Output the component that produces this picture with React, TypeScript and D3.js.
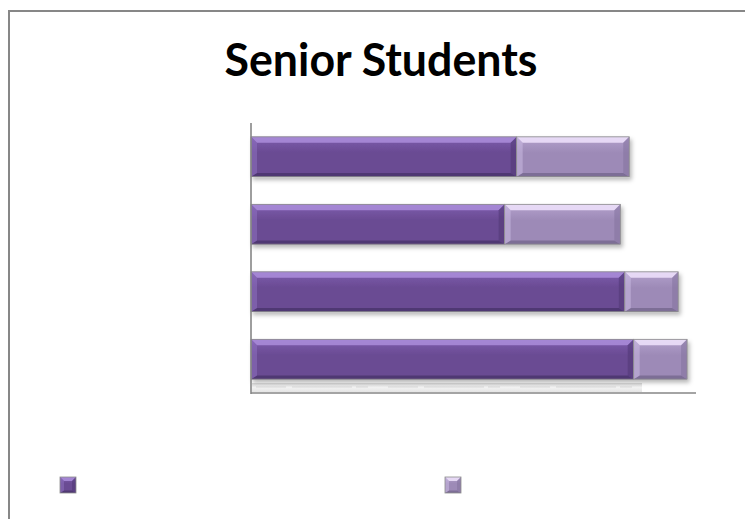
import React from "react";
import * as d3 from "d3";

const title = "Senior Students";
const categories = ["Group 1", "Group 2", "Group 3", "Group 4"];
const seriesNames = ["Series 1", "Series 2"];
const series1 = [59.7, 57, 84, 86];
const series2 = [25.3, 26, 12, 12];

const W = 745;
const H = 519;

type Pal = { face: string; faceTop: string; top: string; bottom: string; left: string; right: string };
const palettes: Pal[] = [
  { face: "#6a4b93", faceTop: "#7d5cad", top: "#a98bd8", bottom: "#4e3770", left: "#9478c8", right: "#4f3674" },
  { face: "#9d8ab7", faceTop: "#b3a1cc", top: "#ecdff9", bottom: "#7a6a92", left: "#d2c3ea", right: "#84729e" },
];

function Bevel({ x0, x1, y0, h, b, pal, id }: { x0: number; x1: number; y0: number; h: number; b: number; pal: Pal; id: string }) {
  const y1 = y0 + h;
  const pts = (a: number[][]) => a.map((p) => p.join(",")).join(" ");
  return (
    <g>
      <rect x={x0} y={y0} width={x1 - x0} height={h} fill={`url(#${id})`} />
      <polygon points={pts([[x0, y0], [x1, y0], [x1 - b, y0 + b], [x0 + b, y0 + b]])} fill={pal.top} opacity={0.9} />
      <polygon points={pts([[x0, y1], [x1, y1], [x1 - b, y1 - b * 0.6], [x0 + b, y1 - b * 0.6]])} fill={pal.bottom} opacity={0.9} />
      <polygon points={pts([[x0, y0], [x0 + b, y0 + b], [x0 + b, y1 - b * 0.6], [x0, y1]])} fill={pal.left} opacity={0.45} />
      <polygon points={pts([[x1, y0], [x1 - b, y0 + b], [x1 - b, y1 - b * 0.6], [x1, y1]])} fill={pal.right} opacity={0.55} />
      <rect x={x0} y={y0} width={x1 - x0} height={h} fill="none" stroke="#8c8c8c" strokeWidth={0.8} />
    </g>
  );
}

export default function App() {
  const x = d3.scaleLinear().domain([0, 100]).range([251, 696]);
  const y = d3
    .scaleBand<string>()
    .domain(categories)
    .range([123, 393])
    .paddingInner(0.41)
    .paddingOuter(0.205);
  const bw = y.bandwidth();
  const stack = categories.map((c, i) => [
    [0, series1[i]],
    [series1[i], series1[i] + series2[i]],
  ]);
  const legendX = [60, 445];

  return (
    <svg width={W} height={H} style={{ position: "absolute", left: 0, top: 0, background: "#fff" }}>
      <defs>
        {palettes.map((p, i) => (
          <linearGradient key={i} id={`g${i}`} x1="0" y1="0" x2="0" y2="1">
            <stop offset="0" stopColor={p.faceTop} />
            <stop offset="0.4" stopColor={p.face} />
            <stop offset="1" stopColor={p.face} />
          </linearGradient>
        ))}
        <filter id="sh" x="-5%" y="-20%" width="115%" height="160%">
          <feDropShadow dx="2" dy="3" stdDeviation="2" floodColor="#000" floodOpacity="0.28" />
        </filter>
        <linearGradient id="strip" x1="0" y1="0" x2="0" y2="1">
          <stop offset="0" stopColor="#d8d8d8" />
          <stop offset="0.5" stopColor="#f2f2f2" />
          <stop offset="1" stopColor="#e4e4e4" />
        </linearGradient>
      </defs>
      <path d={`M9,${W + 20} V11 H${W + 20}`} fill="none" stroke="#878787" strokeWidth={2} />
      <text
        x={381}
        y={76}
        textAnchor="middle"
        fontFamily="Lato, 'Open Sans', sans-serif"
        fontWeight="bold"
        fontSize={45}
        textLength={313}
        lengthAdjust="spacingAndGlyphs"
        fill="#000"
      >
        {title}
      </text>
      <rect x={252} y={383} width={390} height={9} fill="url(#strip)" />
      <line x1={256} x2={640} y1={387} y2={387} stroke="#c8c8c8" strokeWidth={0.6} strokeDasharray="30 6 60 4 12 20" />
      {categories.map((c, i) => (
        <g key={c} filter="url(#sh)">
          {stack[i].map(([a, b], s) => (
            <Bevel key={s} x0={x(a)} x1={x(b)} y0={y(c) as number} h={bw} b={6} pal={palettes[s]} id={`g${s}`} />
          ))}
        </g>
      ))}
      <line x1={x(0)} x2={x(0)} y1={123} y2={394} stroke="#868686" strokeWidth={1.6} />
      <line x1={x(0)} x2={x(100)} y1={393} y2={393} stroke="#868686" strokeWidth={1.6} />
      {seriesNames.map((n, s) => (
        <g key={n}>
          <Bevel x0={legendX[s]} x1={legendX[s] + 16} y0={477} h={16} b={4} pal={palettes[s]} id={`g${s}`} />
        </g>
      ))}
    </svg>
  );
}
